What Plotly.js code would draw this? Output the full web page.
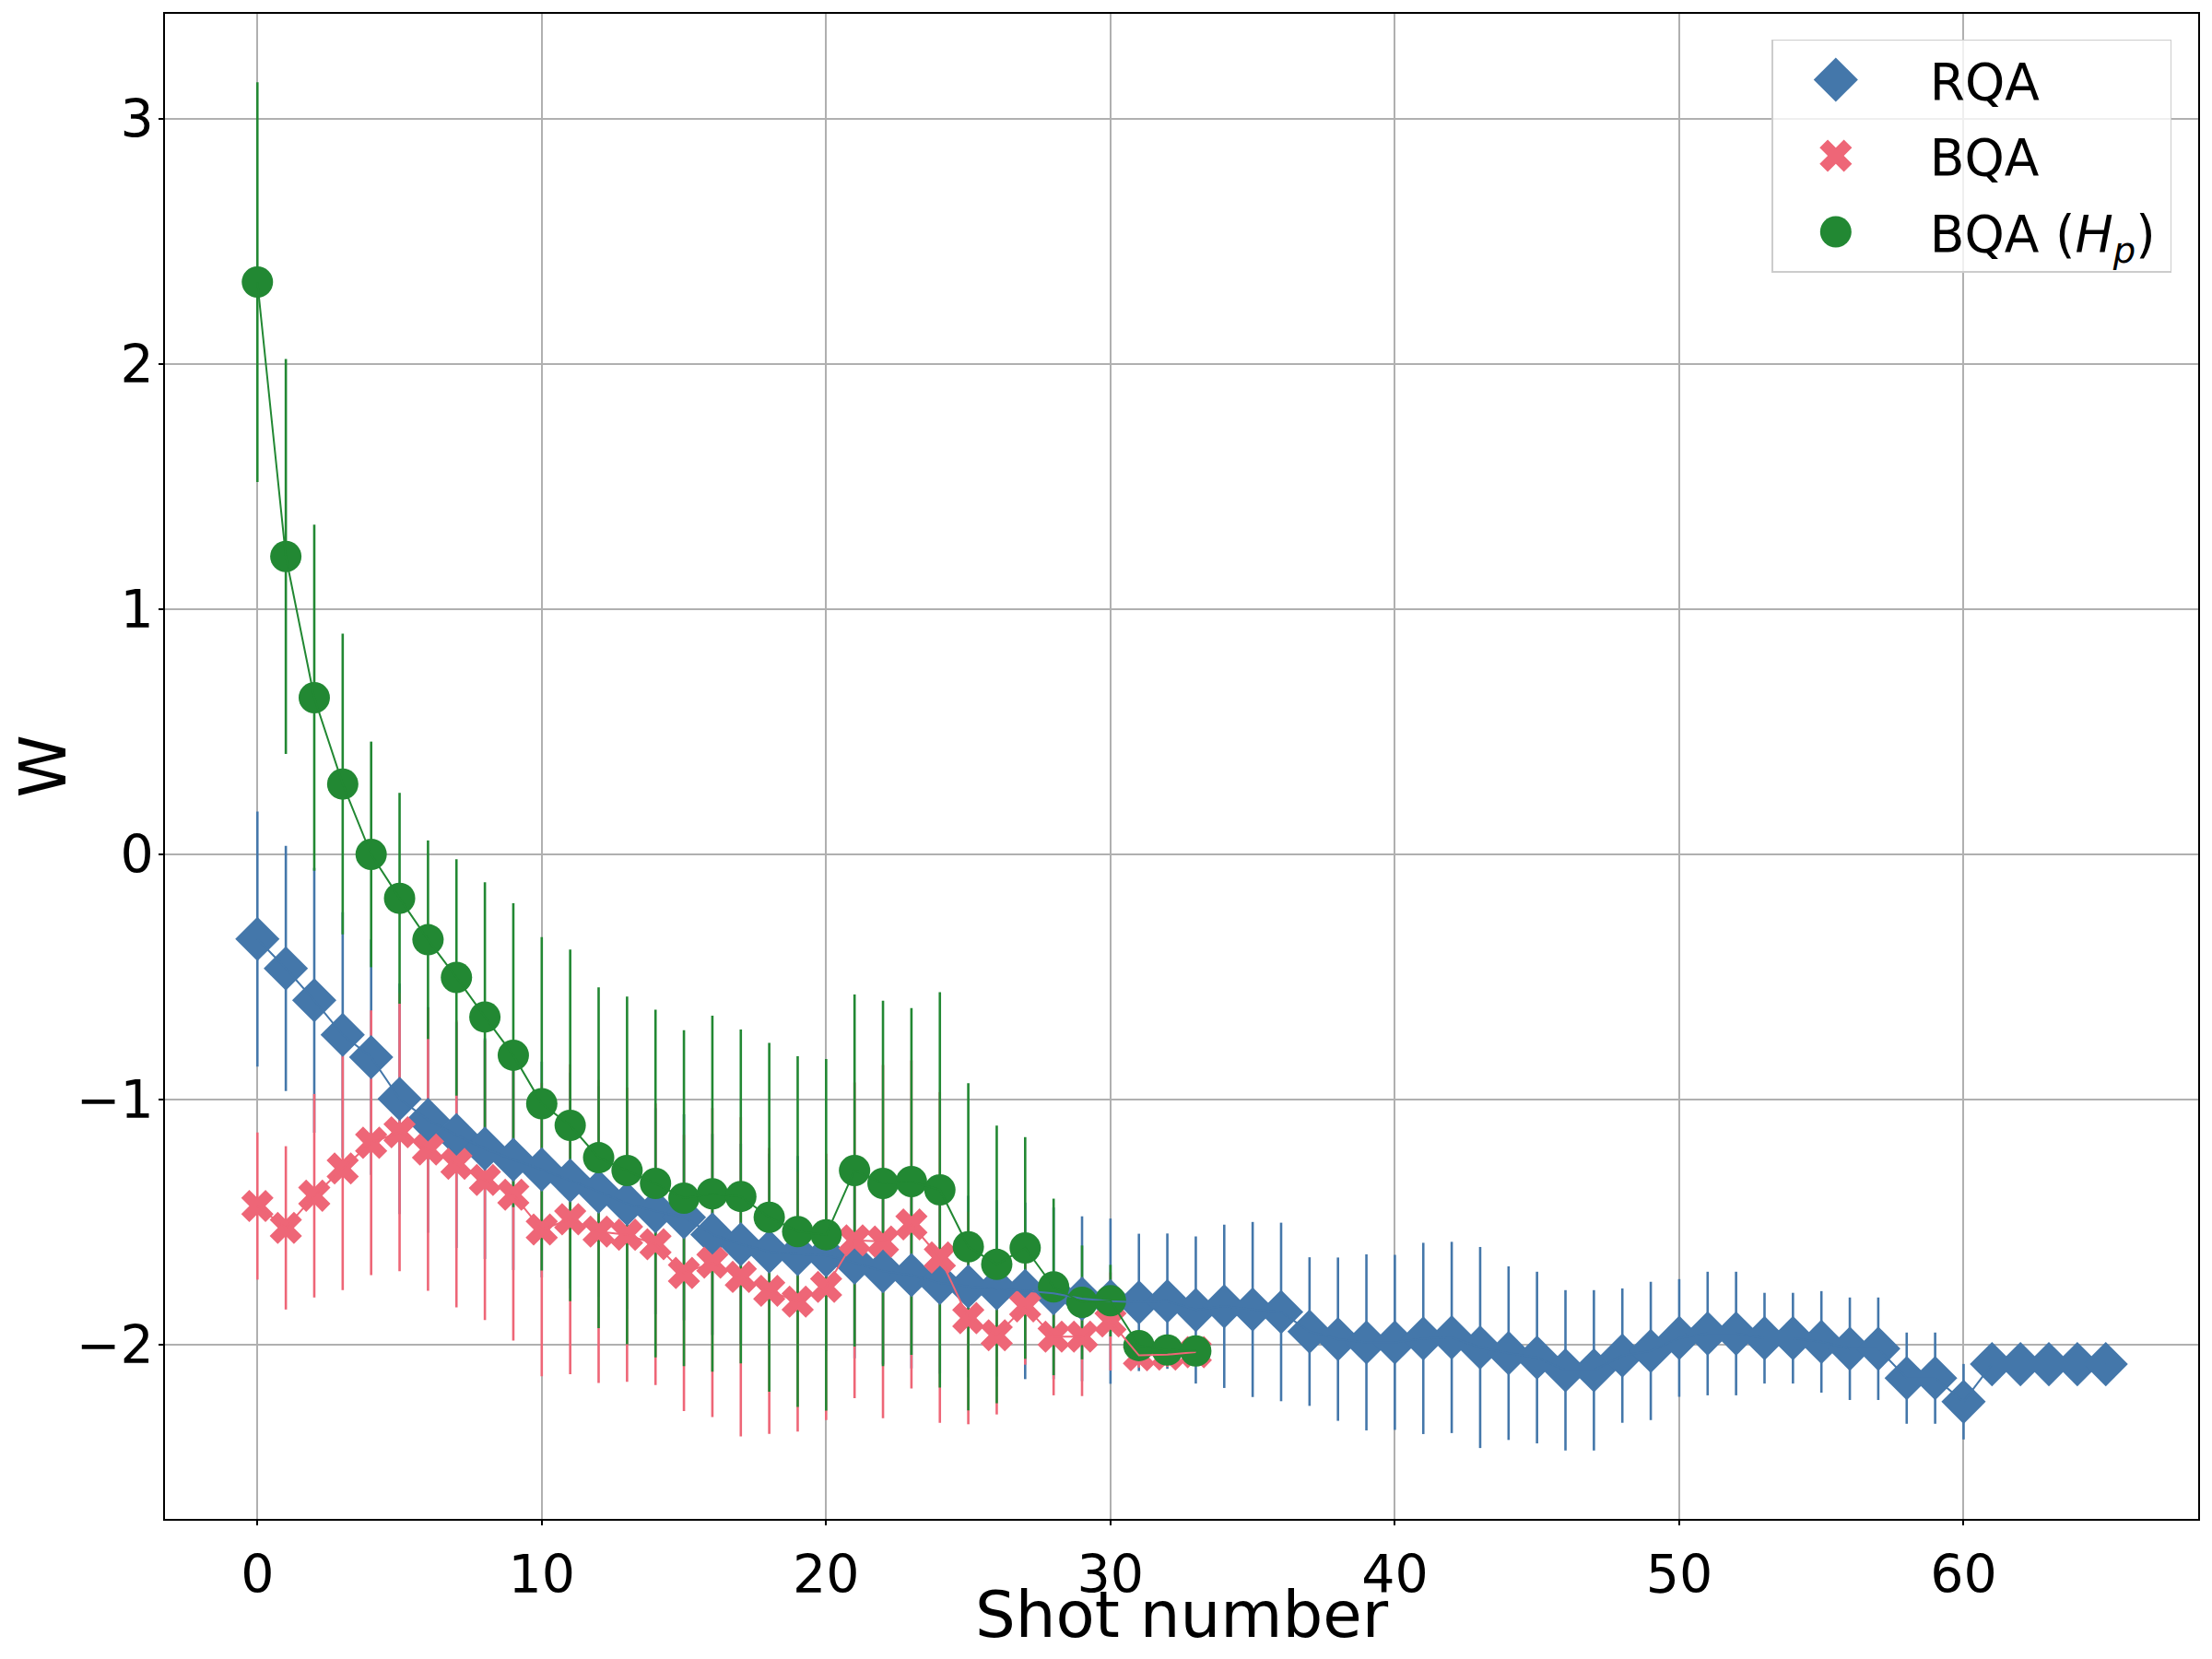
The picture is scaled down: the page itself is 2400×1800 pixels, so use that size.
<!DOCTYPE html>
<html>
<head>
<meta charset="utf-8">
<script src="https://cdn.plot.ly/plotly-3.0.1.min.js"></script>
<style>html,body{margin:0;padding:0;background:#fff;}#chart{width:2400px;height:1800px;}</style>
</head>
<body>
<div id="chart"></div>
<script>
// ---- data ----
const shotsRQA = Array.from({length: 66}, (_, i) => i);
const shotsBQA = Array.from({length: 34}, (_, i) => i);

const rqaW = [-0.345,-0.465,-0.595,-0.736,-0.827,-0.997,-1.083,-1.145,-1.20,-1.245,
  -1.285,-1.33,-1.375,-1.425,-1.455,-1.48,-1.55,-1.59,-1.62,-1.63,
  -1.635,-1.665,-1.70,-1.716,-1.748,-1.762,-1.77,-1.78,-1.79,-1.812,
  -1.822,-1.827,-1.822,-1.858,-1.843,-1.856,-1.866,-1.946,-1.977,-1.99,
  -1.99,-1.974,-1.97,-2.011,-2.034,-2.052,-2.104,-2.104,-2.044,-2.025,
  -1.972,-1.954,-1.954,-1.973,-1.973,-1.988,-2.016,-2.016,-2.136,-2.136,
  -2.232,-2.079,-2.079,-2.079,-2.079,-2.079];
const rqaErr = [0.52,0.50,0.54,0.50,0.48,0.47,0.46,0.46,0.45,0.45,
  0.44,0.44,0.43,0.43,0.42,0.42,0.41,0.41,0.40,0.40,
  0.39,0.39,0.38,0.38,0.37,0.37,0.36,0.36,0.35,0.336,
  0.337,0.28,0.276,0.30,0.333,0.357,0.364,0.303,0.333,0.359,
  0.357,0.39,0.39,0.41,0.354,0.35,0.327,0.327,0.274,0.282,
  0.24,0.252,0.252,0.185,0.185,0.207,0.209,0.209,0.186,0.186,
  0.154,0.04,0.04,0.04,0.04,0.04];

const bqaW = [-1.434,-1.523,-1.392,-1.281,-1.176,-1.133,-1.204,-1.262,-1.328,-1.388,
  -1.530,-1.488,-1.538,-1.551,-1.590,-1.707,-1.665,-1.723,-1.78,-1.824,
  -1.764,-1.574,-1.579,-1.509,-1.644,-1.891,-1.961,-1.843,-1.967,-1.967,
  -1.905,-2.043,-2.04,-2.03];
const bqaErr = [0.30,0.333,0.415,0.496,0.54,0.567,0.576,0.585,0.571,0.595,
  0.598,0.632,0.618,0.60,0.574,0.563,0.63,0.651,0.583,0.53,
  0.543,0.644,0.72,0.669,0.674,0.433,0.323,0.238,0.239,0.242,
  0.20,0.05,0.05,0.05];

const bqaHpW = [2.334,1.215,0.639,0.287,0.0,-0.179,-0.348,-0.502,-0.663,-0.819,
  -1.017,-1.105,-1.237,-1.289,-1.342,-1.402,-1.384,-1.395,-1.48,-1.538,
  -1.551,-1.289,-1.342,-1.334,-1.368,-1.60,-1.672,-1.605,-1.764,-1.827,
  -1.82,-2.003,-2.021,-2.025];
const bqaHpErr = [0.815,0.805,0.706,0.613,0.46,0.43,0.405,0.482,0.549,0.62,
  0.68,0.717,0.695,0.709,0.709,0.685,0.726,0.681,0.711,0.715,
  0.717,0.718,0.745,0.707,0.806,0.667,0.566,0.452,0.36,0.232,
  0.146,0.03,0.03,0.03];

const seriesNames = ['RQA', 'BQA', 'BQA (<i>H<sub>p</sub></i>)\u2009'];
const xTitle = 'Shot number';
const yTitle = 'W';
const xTickVals = [0, 10, 20, 30, 40, 50, 60];
const yTickVals = [-2, -1, 0, 1, 2, 3];

// ---- styling ----
const BLUE = '#4477AA', RED = '#EE6677', GREEN = '#228833';
const FONT = 'DejaVu Sans, Liberation Sans, sans-serif';
const markerSizes = [37, 31, 34];

function errTrace(x, y, err, color) {
  return {
    type: 'scatter', mode: 'markers', x: x, y: y, showlegend: false, hoverinfo: 'skip',
    marker: {size: 1, color: 'rgba(0,0,0,0)'},
    error_y: {type: 'data', array: err, visible: true, color: color, thickness: 2.6, width: 0}
  };
}
function markTrace(x, y, name, color, symbol, size, group) {
  return {
    type: 'scatter', mode: 'markers', x: x, y: y, name: name, legendgroup: group,
    marker: {symbol: symbol, size: size, color: color, line: {width: 0}}
  };
}
function lineTrace(x, y, color) {
  return {
    type: 'scatter', mode: 'lines', x: x, y: y, showlegend: false, hoverinfo: 'skip',
    line: {color: color, width: 2}
  };
}

const data = [
  errTrace(shotsRQA, rqaW, rqaErr, BLUE),
  errTrace(shotsBQA, bqaW, bqaErr, RED),
  errTrace(shotsBQA, bqaHpW, bqaHpErr, GREEN),
  markTrace(shotsRQA, rqaW, seriesNames[0], BLUE, 'diamond', markerSizes[0], 'g1'),
  markTrace(shotsBQA, bqaW, seriesNames[1], RED, 'x', markerSizes[1], 'g2'),
  markTrace(shotsBQA, bqaHpW, seriesNames[2], GREEN, 'circle', markerSizes[2], 'g3'),
  lineTrace(shotsRQA, rqaW, BLUE),
  lineTrace(shotsBQA, bqaW, RED),
  lineTrace(shotsBQA, bqaHpW, GREEN)
];

const axisCommon = {
  showline: true, mirror: true, linecolor: '#000', linewidth: 1.6,
  showgrid: true, gridcolor: '#b0b0b0', gridwidth: 1.5,
  zeroline: false, ticks: 'outside', ticklen: 5, tickwidth: 1.6, tickcolor: '#000',
  tickfont: {family: FONT, size: 57, color: '#000'}, automargin: false
};

const titleFont = {family: FONT, size: 69, color: '#000'};

const layout = {
  width: 2400, height: 1800,
  margin: {l: 179, r: 15, t: 15, b: 152},
  paper_bgcolor: '#fff', plot_bgcolor: '#fff',
  font: {family: FONT, color: '#000'},
  showlegend: true,
  xaxis: Object.assign({}, axisCommon, {
    range: [-3.25, 68.25], tickmode: 'array', tickvals: xTickVals, ticklabelstandoff: 5
  }),
  yaxis: Object.assign({}, axisCommon, {
    range: [-2.71, 3.428], tickmode: 'array', tickvals: yTickVals, ticklabelstandoff: -6
  }),
  annotations: [
    {text: xTitle, xref: 'paper', yref: 'paper', x: 0.5, y: 0, xanchor: 'center', yanchor: 'middle',
     yshift: -104, showarrow: false, font: titleFont},
    {text: yTitle, xref: 'paper', yref: 'paper', x: 0, y: 0.5, xanchor: 'center', yanchor: 'middle',
     xshift: -133, textangle: -90, showarrow: false, font: titleFont}
  ],
  legend: {
    x: 0.987, y: 0.983, xanchor: 'right', yanchor: 'top',
    bgcolor: 'rgba(255,255,255,0.8)', bordercolor: '#cccccc', borderwidth: 1.5,
    font: {family: FONT, size: 55, color: '#000'},
    traceorder: 'grouped', tracegroupgap: 8, itemwidth: 160
  }
};

Plotly.newPlot('chart', data, layout, {displayModeBar: false, responsive: false}).then(function (gd) {
  // enlarge legend symbols to the size of the plotted markers (plotly caps them at 16px)
  const groups = gd.querySelectorAll('.legend .traces');
  groups.forEach(function (g, i) {
    const pts = g.querySelectorAll('path.scatterpts');
    const k = (markerSizes[i] || 16) / 16;
    pts.forEach(function (p) {
      p.setAttribute('transform', 'translate(68,0) scale(' + k + ')');
    });
  });
});
</script>
</body>
</html>
